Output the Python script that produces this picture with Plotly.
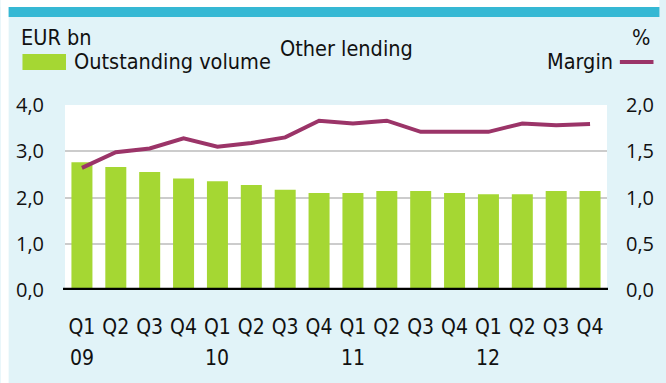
import plotly.graph_objects as go

# Quarterly periods, Q1 2009 .. Q4 2012
quarters = ["Q1", "Q2", "Q3", "Q4"] * 4
years = ["09", "", "", "", "10", "", "", "", "11", "", "", "", "12", "", "", ""]
periods = [f"{q} {2009 + i // 4}" for i, q in enumerate(quarters)]

# Outstanding volume, EUR bn
volume = [2.76, 2.66, 2.55, 2.41, 2.35, 2.27, 2.17, 2.10,
          2.10, 2.14, 2.14, 2.10, 2.07, 2.07, 2.14, 2.14]
# Margin, %
margin = [1.32, 1.49, 1.53, 1.64, 1.55, 1.59, 1.65, 1.83,
          1.80, 1.83, 1.71, 1.71, 1.71, 1.80, 1.78, 1.795]

left_ticks = [0, 1, 2, 3, 4]
right_ticks = [0, 0.5, 1.0, 1.5, 2.0]

W, H = 666, 383
ML, MR, MT, MB = 65, 53, 105, 93
PW, PH = W - ML - MR, H - MT - MB

def xp(px):
    return (px - ML) / PW

def yp(py):
    return (H - MB - py) / PH

NARROW = "Liberation Sans Narrow, DejaVu Sans Condensed, Arial Narrow, sans-serif"
NUM = "Open Sans, sans-serif"
PANEL = "#e1f3f8"
TEAL = "#35b8d4"
GREEN = "#a5d733"
PURPLE = "#9b3468"
INK = "#111111"

fig = go.Figure()
fig.add_trace(go.Bar(x=periods, y=volume, marker=dict(color=GREEN, line=dict(width=0)),
                     name="Outstanding volume", yaxis="y"))
fig.add_trace(go.Scatter(x=periods, y=margin, mode="lines",
                         line=dict(color=PURPLE, width=4), name="Margin", yaxis="y2"))

shapes = [
    # white outer strips and teal header bar
    dict(type="rect", xref="paper", yref="paper", x0=xp(0), x1=xp(8), y0=yp(H), y1=yp(0),
         fillcolor="white", line=dict(width=0), layer="below"),
    dict(type="rect", xref="paper", yref="paper", x0=xp(0), x1=xp(W), y0=yp(7), y1=yp(0),
         fillcolor="white", line=dict(width=0), layer="below"),
    dict(type="rect", xref="paper", yref="paper", x0=xp(8), x1=xp(W), y0=yp(17), y1=yp(7),
         fillcolor=TEAL, line=dict(width=0), layer="below"),
    # legend swatches
    dict(type="rect", xref="paper", yref="paper", x0=xp(22), x1=xp(66), y0=yp(70), y1=yp(54),
         fillcolor=GREEN, line=dict(width=0)),
    dict(type="line", xref="paper", yref="paper", x0=xp(626), x1=xp(660), y0=yp(62), y1=yp(62),
         line=dict(color=PURPLE, width=4)),
    # heavy baseline
    dict(type="line", xref="paper", yref="y", x0=xp(63), x1=xp(614), y0=0, y1=0,
         line=dict(color="black", width=4.5), layer="above"),
]

text_font = dict(family=NARROW, size=21.5, color=INK)
annotations = [
    dict(text="EUR bn", x=xp(18), y=yp(38), xanchor="left", yanchor="middle"),
    dict(text="Outstanding volume", x=xp(72), y=yp(62), xanchor="left", yanchor="middle"),
    dict(text="Other lending", x=xp(280), y=yp(48), xanchor="left", yanchor="middle"),
    dict(text="%", x=xp(658), y=yp(38), xanchor="right", yanchor="middle"),
    dict(text="Margin", x=xp(621), y=yp(62), xanchor="right", yanchor="middle"),
]
for a in annotations:
    a.update(xref="paper", yref="paper", showarrow=False, font=text_font)

# year labels under the first quarter of each year
for p, y in zip(periods, years):
    if y:
        annotations.append(dict(text=y, x=p, xref="x", y=yp(358), yref="paper",
                                xanchor="center", yanchor="middle", showarrow=False,
                                font=dict(family=NARROW, size=21, color=INK)))

fig.update_layout(
    width=W, height=H,
    margin=dict(l=ML, r=MR, t=MT, b=MB, pad=0),
    paper_bgcolor=PANEL, plot_bgcolor="white",
    separators=",.",
    showlegend=False,
    bargap=0.38,
    shapes=shapes,
    annotations=annotations,
    xaxis=dict(type="category", tickvals=periods, ticktext=quarters,
               showgrid=False, zeroline=False, showline=False, ticks="",
               ticklabelstandoff=22,
               tickfont=dict(family=NARROW, size=21, color=INK),
               range=[-0.5, 15.5]),
    yaxis=dict(range=[0, 4], tickvals=left_ticks, tickformat=".1f",
               showgrid=True, gridcolor="#cccccc", gridwidth=1.5,
               zeroline=False, showline=False, ticks="", ticklabelstandoff=20,
               tickfont=dict(family=NUM, size=20, color=INK)),
    yaxis2=dict(range=[0, 2], tickvals=right_ticks, tickformat=".1f", overlaying="y",
                side="right", showgrid=False, zeroline=False, showline=False, ticks="",
                ticklabelstandoff=18,
                tickfont=dict(family=NUM, size=20, color=INK)),
)

fig.write_html("out.html")
